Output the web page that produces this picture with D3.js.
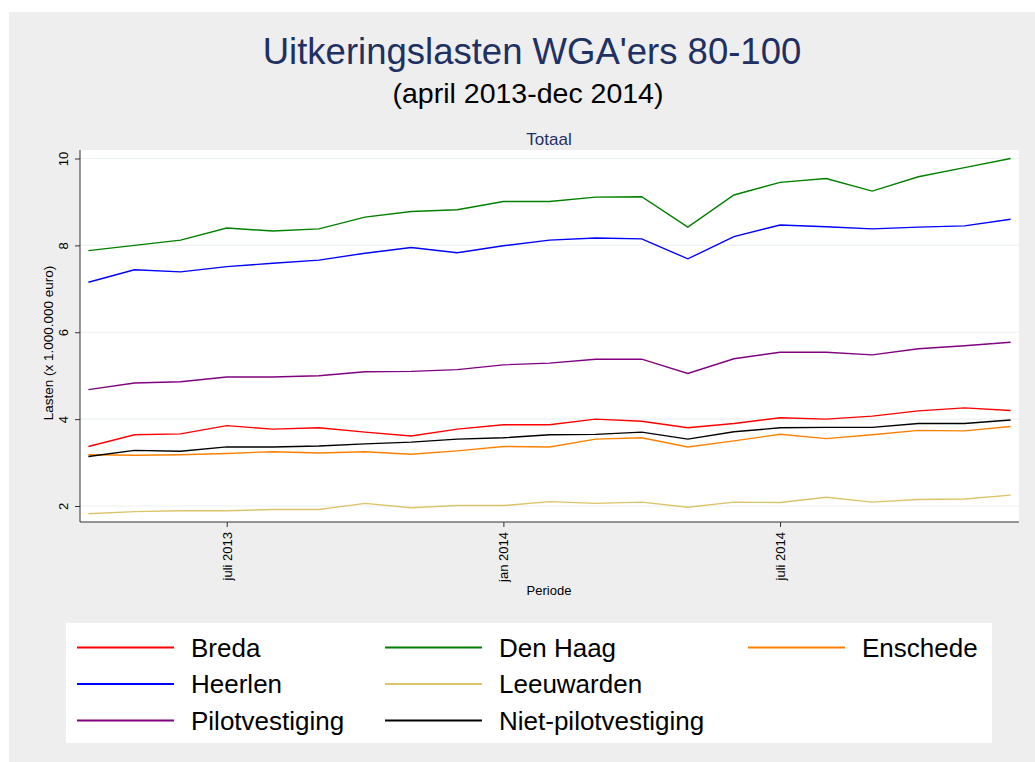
<!DOCTYPE html>
<html>
<head>
<meta charset="utf-8">
<script src="https://cdn.jsdelivr.net/npm/d3@7"></script>
<style>
  body { margin: 0; background: #ffffff; }
  text { font-family: "Liberation Sans", Arial, sans-serif; }
</style>
</head>
<body>
<div id="chart"></div>
<script>
// months april 2013 - dec 2014 (index 0..20)
var months = ["apr 2013","mei 2013","jun 2013","juli 2013","aug 2013","sep 2013","okt 2013","nov 2013","dec 2013",
  "jan 2014","feb 2014","mrt 2014","apr 2014","mei 2014","jun 2014","juli 2014","aug 2014","sep 2014","okt 2014","nov 2014","dec 2014"];
var tickIndex = [3, 9, 15];
var tickLabels = ["juli 2013", "jan 2014", "juli 2014"];
var yTicks = [2, 4, 6, 8, 10];

var breda = [3.37,3.64,3.66,3.85,3.77,3.80,3.70,3.61,3.77,3.87,3.87,4.00,3.95,3.80,3.90,4.03,4.00,4.07,4.19,4.26,4.20];
var denHaag = [7.88,8.00,8.12,8.40,8.33,8.38,8.65,8.78,8.82,9.01,9.01,9.11,9.12,8.42,9.16,9.45,9.54,9.25,9.58,9.79,10.00];
var enschede = [3.18,3.17,3.18,3.21,3.25,3.22,3.25,3.19,3.27,3.37,3.36,3.54,3.57,3.36,3.50,3.65,3.55,3.64,3.74,3.73,3.83];
var heerlen = [7.15,7.44,7.39,7.51,7.59,7.66,7.82,7.95,7.83,7.99,8.12,8.17,8.15,7.69,8.20,8.47,8.43,8.38,8.42,8.45,8.60];
var leeuwarden = [1.82,1.87,1.89,1.89,1.92,1.92,2.06,1.96,2.01,2.01,2.10,2.06,2.09,1.97,2.09,2.08,2.20,2.09,2.15,2.16,2.25];
var pilot = [4.68,4.83,4.86,4.97,4.97,5.00,5.09,5.10,5.14,5.25,5.29,5.38,5.38,5.05,5.39,5.54,5.54,5.48,5.62,5.69,5.77];
var nietPilot = [3.14,3.28,3.26,3.36,3.36,3.38,3.43,3.47,3.54,3.57,3.64,3.65,3.70,3.54,3.71,3.80,3.81,3.81,3.90,3.90,3.98];

var seriesNames = ["Breda","Den Haag","Enschede","Heerlen","Leeuwarden","Pilotvestiging","Niet-pilotvestiging"];
var seriesValues = [breda, denHaag, enschede, heerlen, leeuwarden, pilot, nietPilot];
var seriesColors = ["#ff0000","#008000","#ff8000","#0000ff","#dcc46a","#800080","#000000"];
// legend slots (column, row) per series
var legendCol = [0, 1, 2, 0, 1, 0, 1];
var legendRow = [0, 0, 0, 1, 1, 2, 2];

var svgWidth = 1035;
var svgHeight = 762;

var svg = d3.select("#chart")
  .append("svg")
  .attr("width", svgWidth)
  .attr("height", svgHeight);

// gray graph region
svg.append("rect")
  .attr("x", 9).attr("y", 12)
  .attr("width", svgWidth - 9).attr("height", svgHeight - 12)
  .attr("fill", "#eeeeee");

// plot region
var plot = { left: 80, right: 1019, top: 150, bottom: 522 };

svg.append("rect")
  .attr("x", plot.left).attr("y", plot.top)
  .attr("width", plot.right - plot.left).attr("height", plot.bottom - plot.top)
  .attr("fill", "#ffffff");

var x = d3.scaleLinear()
  .domain([0, months.length - 1])
  .range([88.4, 1010.6]);

var y = d3.scaleLinear()
  .domain([2, 10])
  .range([506, 158.5]);

// gridlines
svg.append("g")
  .selectAll("line")
  .data(yTicks)
  .enter()
  .append("line")
  .attr("x1", plot.left).attr("x2", plot.right)
  .attr("y1", d => y(d)).attr("y2", d => y(d))
  .attr("stroke", "#eaf2f3")
  .attr("stroke-width", 1.2);

// y axis
var yAxis = svg.append("g")
  .attr("transform", `translate(${plot.left}, 0)`)
  .call(d3.axisLeft(y).tickValues(yTicks).tickSize(5).tickFormat(d3.format("d")));
yAxis.select(".domain").attr("d", `M0,${plot.top}V${plot.bottom}`).attr("stroke", "#333");
yAxis.selectAll(".tick line").attr("stroke", "#333");
yAxis.selectAll(".tick text")
  .attr("x", null).attr("dy", null)
  .attr("transform", "translate(-12,0) rotate(-90)")
  .attr("text-anchor", "middle")
  .attr("font-size", 13)
  .attr("font-family", "Liberation Sans, Arial, sans-serif")
  .attr("fill", "#000");

svg.append("text")
  .attr("transform", `translate(53, ${(plot.top + plot.bottom) / 2 + 7}) rotate(-90)`)
  .attr("text-anchor", "middle")
  .attr("font-size", 13.5)
  .text("Lasten (x 1.000.000 euro)");

// x axis
var xAxis = svg.append("g")
  .attr("transform", `translate(0, ${plot.bottom})`)
  .call(d3.axisBottom(x).tickValues(tickIndex).tickSize(5).tickFormat((d, i) => tickLabels[i]));
xAxis.select(".domain").attr("d", `M${plot.left},0H${plot.right}`).attr("stroke", "#333");
xAxis.selectAll(".tick line").attr("stroke", "#333");
xAxis.selectAll(".tick text")
  .attr("y", null).attr("dy", null)
  .attr("transform", "translate(4.5,10) rotate(-90)")
  .attr("text-anchor", "end")
  .attr("font-size", 13)
  .attr("font-family", "Liberation Sans, Arial, sans-serif")
  .attr("fill", "#000");

svg.append("text")
  .attr("x", 549).attr("y", 595)
  .attr("text-anchor", "middle")
  .attr("font-size", 13)
  .text("Periode");

// lines
var line = d3.line()
  .x((d, i) => x(i))
  .y(d => y(d));

svg.append("g")
  .selectAll("path")
  .data(seriesValues)
  .enter()
  .append("path")
  .attr("d", d => line(d))
  .attr("fill", "none")
  .attr("stroke", (d, i) => seriesColors[i])
  .attr("stroke-width", 1.4);

// titles
svg.append("text")
  .attr("x", 532).attr("y", 63.5)
  .attr("text-anchor", "middle")
  .attr("font-size", 36.5)
  .attr("fill", "#1f3062")
  .text("Uitkeringslasten WGA'ers 80-100");

svg.append("text")
  .attr("x", 528).attr("y", 102.5)
  .attr("text-anchor", "middle")
  .attr("font-size", 28.5)
  .attr("fill", "#000")
  .text("(april 2013-dec 2014)");

svg.append("text")
  .attr("x", 549).attr("y", 144.5)
  .attr("text-anchor", "middle")
  .attr("font-size", 17)
  .attr("fill", "#1f3062")
  .text("Totaal");

// legend
svg.append("rect")
  .attr("x", 66).attr("y", 623)
  .attr("width", 926).attr("height", 120)
  .attr("fill", "#ffffff");

var colLine = [77, 385, 748];
var colText = [191, 499, 862];
var rowY = [647.5, 684, 720.5];

var legend = svg.append("g")
  .selectAll("g")
  .data(seriesNames)
  .enter()
  .append("g")
  .attr("transform", (d, i) => `translate(0, ${rowY[legendRow[i]]})`);

legend.append("line")
  .attr("x1", (d, i) => colLine[legendCol[i]])
  .attr("x2", (d, i) => colLine[legendCol[i]] + 97)
  .attr("stroke", (d, i) => seriesColors[i])
  .attr("stroke-width", 2.2);

legend.append("text")
  .attr("x", (d, i) => colText[legendCol[i]])
  .attr("y", 9)
  .attr("font-size", 26)
  .attr("fill", "#000")
  .text(d => d);
</script>
</body>
</html>
